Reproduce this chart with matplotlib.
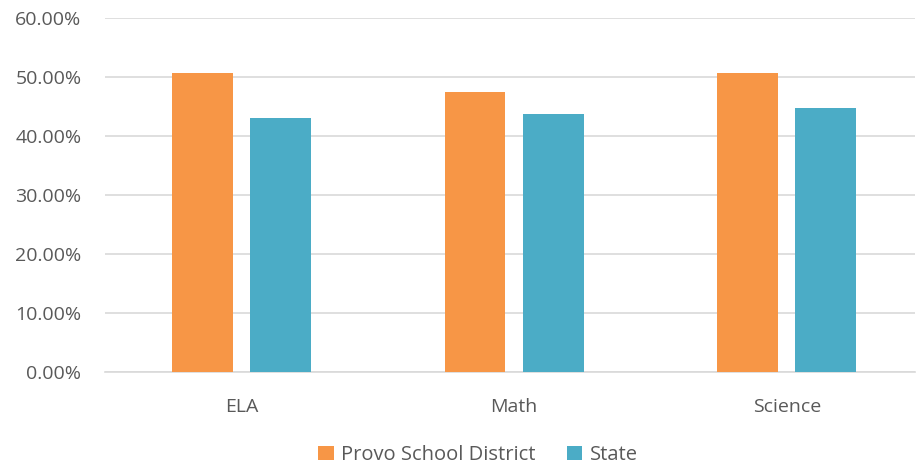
import matplotlib
matplotlib.use("Agg")
import matplotlib.pyplot as plt
import numpy as np
from matplotlib.ticker import FuncFormatter, MultipleLocator

# proficiency rates by subject (%)
subjects = ["ELA", "Math", "Science"]
provo = [50.7, 47.4, 50.6]
state = [43.1, 43.7, 44.7]
series_names = ["Provo School District", "State"]

orange = "#F79646"
teal = "#4BACC6"
grey_text = "#595959"
grid_col = "#D9D9D9"

plt.rcParams['font.family'] = ['Open Sans', 'DejaVu Sans']

fig = plt.figure(figsize=(9.19, 4.70), dpi=100)
ax = fig.add_axes([105 / 919, 1 - 372 / 470, 810 / 919, (372 - 18) / 470])

x = np.arange(len(subjects))
w = 0.223
off = 0.143
ax.bar(x - off, provo, w, color=orange, label=series_names[0], zorder=3)
ax.bar(x + off, state, w, color=teal, label=series_names[1], zorder=3)

ax.set_xlim(-0.5, 2.47)
ax.set_ylim(0, 60)
ax.yaxis.set_major_locator(MultipleLocator(10))
ax.yaxis.set_major_formatter(FuncFormatter(lambda v, _: f"{v:.2f}%"))
ax.grid(axis="y", color=grid_col, linewidth=1.2, zorder=0)

for s in ["top", "right", "left"]:
    ax.spines[s].set_visible(False)
ax.spines["bottom"].set_color(grid_col)
ax.spines["bottom"].set_linewidth(1.2)

ax.set_xticks(x)
ax.set_xticklabels(subjects)
ax.tick_params(axis="both", length=0, labelsize=14, colors=grey_text)
ax.tick_params(axis="x", pad=19)
ax.tick_params(axis="y", pad=17)

leg = fig.legend(loc="center", bbox_to_anchor=(478 / 919, 1 - 455 / 470), ncol=2,
                 frameon=False, fontsize=14.5, handlelength=0.75, handleheight=0.75,
                 handletextpad=0.35, columnspacing=1.6)
for t in leg.get_texts():
    t.set_color(grey_text)

fig.savefig("out.png", dpi=100)
